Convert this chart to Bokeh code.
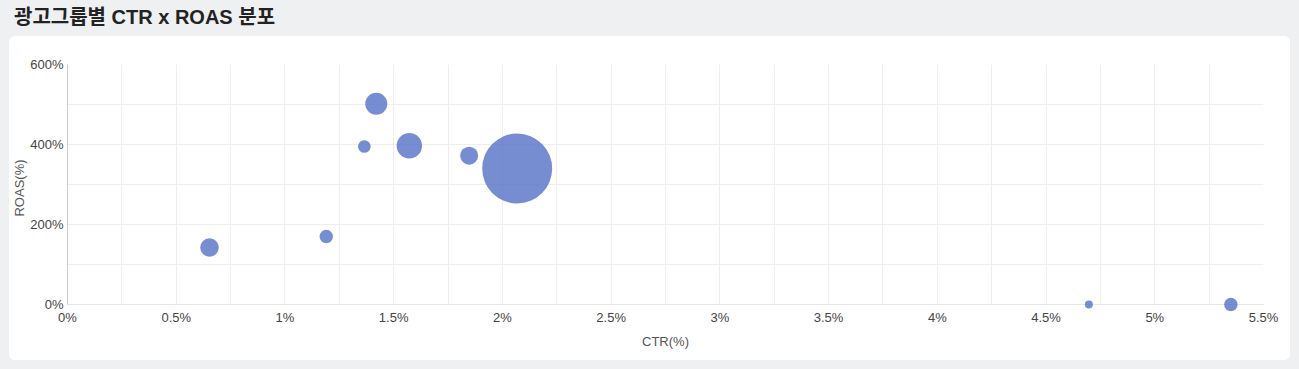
from bokeh.plotting import figure
from bokeh.models import Div, Column, SingleIntervalTicker, CustomJSTickFormatter, ColumnDataSource, Range1d, Span
from bokeh.embed import file_html
from bokeh.resources import INLINE
import numpy as np

# --- data ---
groups = ["그룹1", "그룹2", "그룹3", "그룹4", "그룹5", "그룹6", "그룹7", "그룹8", "그룹9"]
ctr = [0.653, 1.19, 1.365, 1.42, 1.572, 1.847, 2.068, 4.697, 5.35]      # %
roas = [142.5, 170.0, 395.0, 502.0, 397.0, 372.0, 340.0, 0.0, 0.0]       # %
cost = [86, 45, 40, 121, 161, 81, 1225, 16, 45]                          # bubble value

title_text = "광고그룹별 CTR x ROAS 분포"
x_max, y_max = 5.5, 600

FONT = "Liberation Sans, Arial, Noto Sans CJK KR, sans-serif"

src = ColumnDataSource(dict(x=ctr, y=roas, s=[2 * np.sqrt(c) for c in cost], g=groups))

y_pad = 17.5  # room below zero so bubbles on the axis are not clipped
p = figure(width=1281, height=324, output_backend="svg", toolbar_location=None,
           x_range=Range1d(0, x_max), y_range=Range1d(-y_pad, y_max),
           min_border_left=57, min_border_right=27, min_border_top=28, min_border_bottom=49)
p.margin = (0, 0, 0, 17)
p.styles = {"border-radius": "6px", "overflow": "hidden", "background-color": "white"}
p.background_fill_color = "white"
p.border_fill_color = "white"
p.outline_line_color = None

# white mask below zero hides the grid lines there
p.quad(left=[0], right=[x_max], bottom=[-y_pad], top=[0], fill_color="white", line_color=None)
p.add_layout(Span(location=0, dimension="width", line_color="#cccccc", line_width=1, level="underlay"))
p.scatter("x", "y", size="s", source=src, fill_color="#5470c6", fill_alpha=0.8, line_color=None)

p.yaxis.bounds = (0, y_max)
p.xaxis.ticker = SingleIntervalTicker(interval=0.5, num_minor_ticks=2)
p.yaxis.ticker = SingleIntervalTicker(interval=200, num_minor_ticks=2)
p.xaxis.formatter = CustomJSTickFormatter(code="return (Math.round(tick*10)/10) + '%';")
p.yaxis.formatter = CustomJSTickFormatter(code="return tick + '%';")

for ax in (p.xaxis, p.yaxis):
    ax.axis_line_color = "#cccccc"
    ax.axis_line_width = 1
    ax.major_tick_line_color = None
    ax.minor_tick_line_color = None
    ax.major_tick_out = 0
    ax.major_tick_in = 0
    ax.minor_tick_out = 0
    ax.minor_tick_in = 0
    ax.major_label_text_font = FONT
    ax.major_label_text_font_size = "13px"
    ax.major_label_text_color = "#444444"
    ax.axis_label_text_font = FONT
    ax.axis_label_text_font_size = "13px"
    ax.axis_label_text_font_style = "normal"
    ax.axis_label_text_color = "#555555"

p.xaxis.axis_line_color = None
p.xaxis.axis_label = "CTR(%)"
p.yaxis.axis_label = "ROAS(%)"
p.xaxis.major_label_standoff = -2
p.yaxis.major_label_standoff = 4
p.xaxis.axis_label_standoff = 6
p.yaxis.axis_label_standoff = 0

for gr in (p.xgrid, p.ygrid):
    gr.grid_line_color = "#eeeeee"
    gr.minor_grid_line_color = "#eeeeee"

title = Div(text=title_text, width=1290, height=29, margin=(15, 0, 0, 22),
            styles={"font-family": FONT, "font-size": "20px", "font-weight": "bold",
                    "color": "#222222", "line-height": "20px"})

layout = Column(children=[title, p], spacing=0, width=1307, height=377,
                styles={"background-color": "#eef0f2", "margin": "-8px"})

open("out.html", "w").write(file_html(layout, INLINE))
